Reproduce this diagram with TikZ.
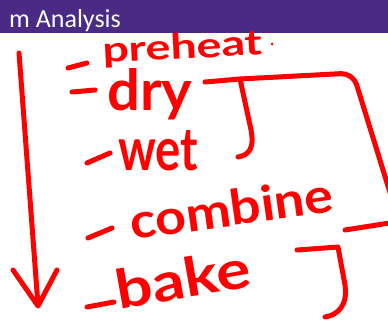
\documentclass[tikz,border=0pt]{standalone}
\usepackage{fontspec}
\setmainfont{Carlito}
\newfontfamily\handfont{Lato}
\definecolor{pen}{RGB}{255,0,0}
\definecolor{slidebar}{RGB}{75,42,133}
\tikzset{
 ink/.style={draw=pen,line width=5pt,line cap=round,line join=round},
 word/.style={text=pen,inner sep=0pt,anchor=base west,font=\handfont\bfseries},
}
\newcommand{\handword}[3]{\resizebox{#1pt}{#2pt}{#3}}
\begin{document}
\begin{tikzpicture}[x=1pt,y=-1pt]
 \useasboundingbox (0,0) rectangle (388,322);
 \fill[slidebar] (0,0) rectangle (388,33); %title bar
 \node[anchor=base west,inner sep=0pt,text=white,font=\fontsize{26}{26}\selectfont] (title) at (9,27) {m Analysis};
 % the steps
 \node[word,rotate=3] (preheat) at (103,63) {\handword{160}{26}{preheat}};
 \fill[pen] (272,44) circle (1.5pt);
 \node[word] (dry) at (107,110) {\handword{85}{42}{dry}};
 \node[word] (wet) at (118,170) {\handword{80}{40}{wet}};
 \node[word,rotate=8] (combine) at (132,240) {\handword{205}{36}{combine}};
 \node[word,rotate=10] (bake) at (119,310) {\handword{136}{40}{bake}};
 % dashes
 \draw[ink] (68,68) -- (87,63);
 \draw[ink] (72,92) -- (95,90);
 \draw[ink] (87,163) -- (110,153);
 \draw[ink] (88,238) -- (112,228);
 \draw[ink] (87,307) -- (114,302);
 % down arrow
 \draw[ink] (19,53) -- (38,305);
 \draw[ink] (13,270) -- (38,306) -- (57,270);
 % brackets
 \coordinate (drytop) at (240,79);
 \draw[ink] (205,82) -- (drytop) -- (250,125) .. controls (256,150) and (248,155) .. (238,157);
 \draw[ink,rounded corners=12pt] (drytop) -- (353,73) -- (396,212);
 \draw[ink] (345,230) -- (396,222);
 \coordinate (baketop) at (338,247);
 \draw[ink] (297,250) -- (baketop) -- (345,285) .. controls (348,305) and (338,315) .. (325,317);
\end{tikzpicture}
\end{document}
